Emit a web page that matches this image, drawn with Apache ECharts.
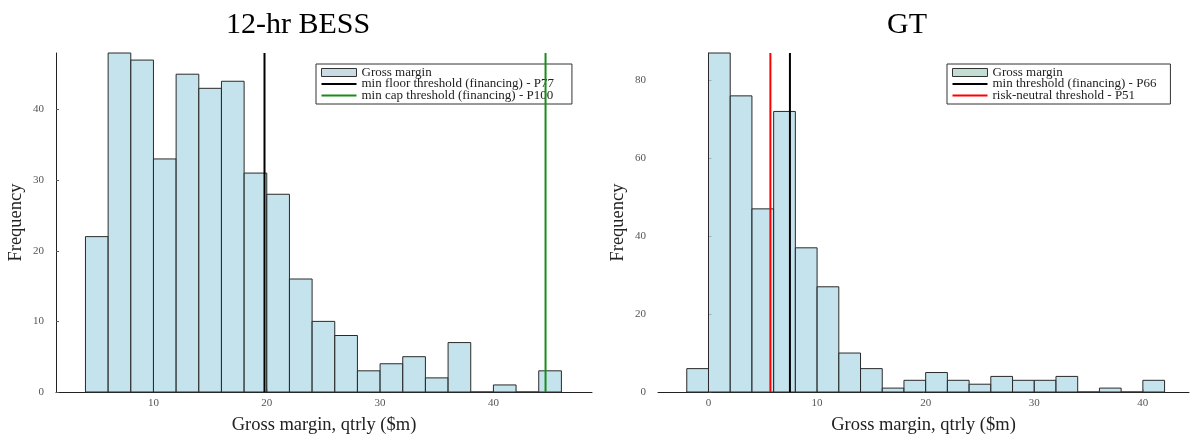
<!DOCTYPE html>
<html><head><meta charset="utf-8">
<script src="https://cdn.jsdelivr.net/npm/echarts@6/dist/echarts.min.js"></script>
<style>html,body{margin:0;padding:0;background:#fff}#c{width:1191px;height:440px}</style>
</head><body><div id="c"></div>
<script>
// ---- data ----
const titles = ['12-hr BESS', 'GT'];
const binWidth = 2;
const bessBinStarts = [4,6,8,10,12,14,16,18,20,22,24,26,28,30,32,34,36,38,40,42,44];
const bessCounts    = [22,48,47,33,45,43,44,31,28,16,10,8,3,4,5,2,7,0,1,0,3];
const gtBinStarts   = [-2,0,2,4,6,8,10,12,14,16,18,20,22,24,26,28,30,32,34,36,38,40];
const gtCounts      = [6,87,76,47,72,37,27,10,6,1,3,5,3,2,4,3,3,4,0,1,0,3];
const bessLines = [{name:'min floor threshold (financing) - P77', x:19.8, color:'#000000'},
                   {name:'min cap threshold (financing) - P100', x:44.6, color:'#1a8c1a'}];
const gtLines   = [{name:'min threshold (financing) - P66', x:7.5, color:'#000000'},
                   {name:'risk-neutral threshold - P51', x:5.7, color:'#ff0000'}];
const bessXTicks = [10,20,30,40];
const bessYTicks = [0,10,20,30,40];
const gtXTicks = [0,10,20,30,40];
const gtYTicks = [0,20,40,60,80];
const xName = 'Gross margin, qtrly ($m)';
const yName = 'Frequency';
const histName = 'Gross margin';

const serif = '"Liberation Serif", "DejaVu Serif", serif';
const barFill = 'rgba(173,216,230,0.72)';
const lineIcon = 'path://M0,0L35,0L35,2.2L0,2.2Z';

function histSeries(idx, starts, counts) {
  return {
    type: 'custom', name: histName, xAxisIndex: idx, yAxisIndex: idx,
    data: starts.map((s, i) => [s, s + binWidth, counts[i]]),
    itemStyle: {color: barFill, borderColor: '#2a2a2a', borderWidth: 1},
    renderItem: function (params, api) {
      const p0 = api.coord([api.value(0), 0]);
      const p1 = api.coord([api.value(1), api.value(2)]);
      return {type: 'rect', shape: {x: p0[0], y: p1[1], width: p1[0] - p0[0], height: p0[1] - p1[1]},
        style: {fill: barFill, stroke: '#2a2a2a', lineWidth: 1}};
    },
    encode: {x: [0, 1], y: 2}, z: 2
  };
}
function vline(idx, l, ymax) {
  return {type: 'line', name: l.name, xAxisIndex: idx, yAxisIndex: idx, symbol: 'none',
    data: [[l.x, 0], [l.x, ymax]], lineStyle: {color: l.color, width: 2}, itemStyle: {color: l.color}, z: 5, silent: true};
}
function xAxis(idx, min, max, ticks) {
  return {type: 'value', gridIndex: idx, min: min, max: max,
    name: xName, nameLocation: 'middle', nameGap: 24,
    nameTextStyle: {fontFamily: serif, fontSize: 18.5, color: '#222'},
    axisLine: {show: true, onZero: false, lineStyle: {color: '#222', width: 1}},
    axisTick: {show: true, inside: true, length: 3, customValues: ticks, lineStyle: {color: '#555'}},
    axisLabel: {customValues: ticks, fontFamily: serif, fontSize: 11, color: '#555', margin: 6},
    splitLine: {show: false}};
}
function yAxis(idx, max, ticks) {
  return {type: 'value', gridIndex: idx, min: 0, max: max,
    name: yName, nameLocation: 'middle', nameGap: 30,
    nameTextStyle: {fontFamily: serif, fontSize: 18.5, color: '#222'},
    axisLine: {show: true, lineStyle: {color: '#222', width: 1}},
    axisTick: {show: true, inside: true, length: 3, customValues: ticks, lineStyle: {color: '#555'}},
    axisLabel: {customValues: ticks, fontFamily: serif, fontSize: 11, color: '#555', margin: 12},
    splitLine: {show: false}};
}
function legend(left, items, patchColor, padRight) {
  return {orient: 'vertical', left: left, top: 64, itemGap: -1.5, itemWidth: 35, itemHeight: 8,
    padding: [2, padRight, 2, 5], borderColor: '#333', borderWidth: 1, backgroundColor: '#fff',
    selectedMode: false, symbolKeepAspect: true,
    textStyle: {fontFamily: serif, fontSize: 13, color: '#222'},
    data: [{name: histName, icon: 'rect', itemStyle: {color: patchColor, borderColor: '#333', borderWidth: 1}}]
      .concat(items.map(l => ({name: l.name, icon: lineIcon, itemStyle: {color: l.color, borderWidth: 0}})))};
}

const chart = echarts.init(document.getElementById('c'), null, {renderer: 'canvas'});
chart.setOption({
  animation: false,
  title: [
    {text: titles[0], left: 293, top: 5, textAlign: 'center', textStyle: {fontFamily: serif, fontSize: 30, fontWeight: 'normal', color: '#000'}},
    {text: titles[1], left: 902, top: 5, textAlign: 'center', textStyle: {fontFamily: serif, fontSize: 30, fontWeight: 'normal', color: '#000'}}
  ],
  grid: [
    {left: 56, right: 599, top: 53, bottom: 44},
    {left: 658, right: 2, top: 53, bottom: 44}
  ],
  xAxis: [xAxis(0, 1.4, 48.7, bessXTicks), xAxis(1, -4.65, 44.25, gtXTicks)],
  yAxis: [yAxis(0, 48, bessYTicks), yAxis(1, 87, gtYTicks)],
  legend: [legend(316, bessLines, '#c9dbe3', 18), legend(947, gtLines, '#c2ddd2', 14)],
  series: [
    histSeries(0, bessBinStarts, bessCounts),
    vline(0, bessLines[0], 48), vline(0, bessLines[1], 48),
    histSeries(1, gtBinStarts, gtCounts),
    vline(1, gtLines[0], 87), vline(1, gtLines[1], 87)
  ]
});
</script></body></html>
